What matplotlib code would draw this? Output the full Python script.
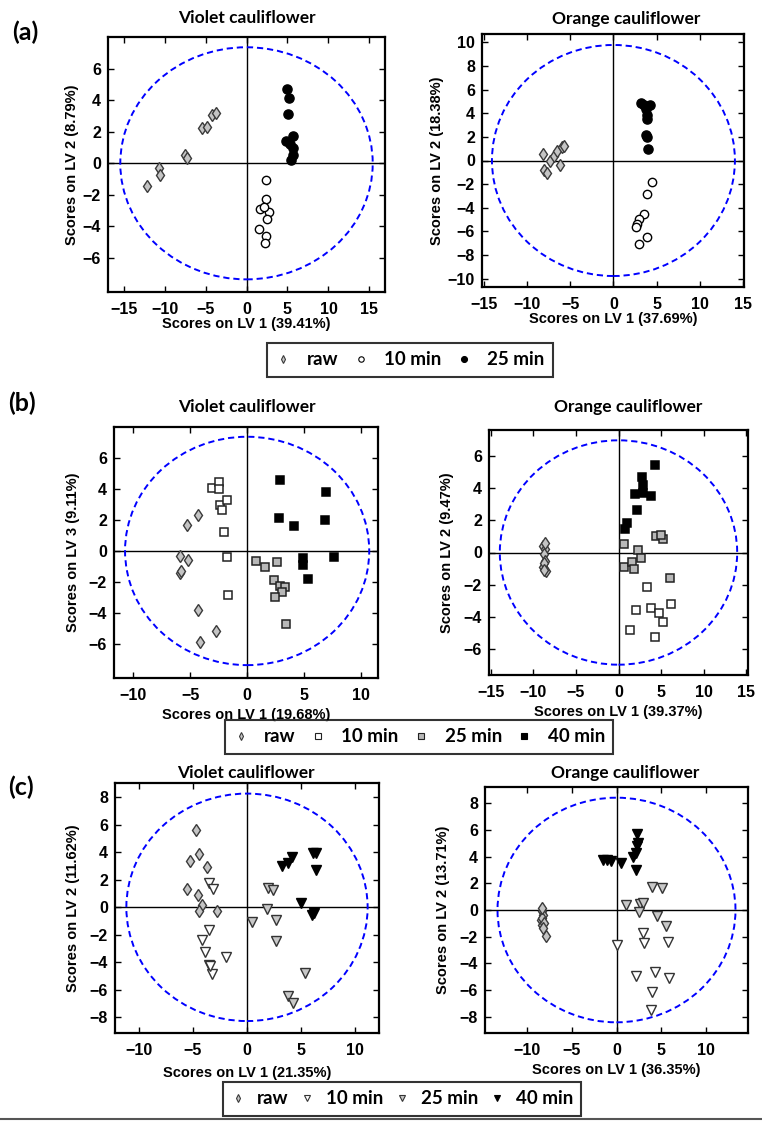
import numpy as np
import matplotlib
matplotlib.use("Agg")
import matplotlib.pyplot as plt
from matplotlib.patches import Ellipse
from matplotlib.lines import Line2D

plt.rcParams['font.family'] = ['Liberation Sans', 'DejaVu Sans']
plt.rcParams['font.weight'] = 'bold'
plt.rcParams['axes.labelweight'] = 'bold'
plt.rcParams['axes.unicode_minus'] = True

# ---- data (scores) ----
# (a) violet
a_vio_raw = [(-12.2, -1.42), (-10.65, -0.30), (-10.5, -0.76), (-7.48, 0.53), (-7.32, 0.36),
             (-5.4, 2.24), (-4.76, 2.33), (-4.23, 3.04), (-3.74, 3.19)]
a_vio_10 = [(2.44, -1.04), (2.32, -2.26), (1.67, -2.92), (2.80, -3.07), (2.48, -3.53),
            (1.50, -4.19), (2.32, -4.59), (2.24, -5.07), (2.10, -2.77)]
a_vio_25 = [(4.96, 4.71), (5.16, 4.12), (5.12, 3.13), (5.69, 1.71), (4.80, 1.40),
            (5.28, 1.25), (5.69, 0.97), (5.69, 0.55), (5.41, 0.19)]
# (a) orange
a_ora_raw = [(-8.19, 0.51), (-7.99, -0.79), (-7.68, -1.07), (-7.37, 0.0), (-6.91, 0.40),
             (-6.53, 0.79), (-6.14, -0.37), (-5.95, 1.16), (-5.68, 1.24)]
a_ora_10 = [(4.48, -1.78), (3.90, -2.80), (3.59, -4.49), (3.01, -4.97), (2.74, -5.34),
            (2.66, -5.65), (3.90, -6.47), (2.97, -7.03)]
a_ora_25 = [(3.20, 4.83), (3.51, 4.69), (4.21, 4.69), (3.82, 4.35), (3.90, 3.84),
            (3.90, 3.50), (3.82, 2.15), (3.90, 1.98), (3.98, 0.96)]
# (b) violet
b_vio_raw = [(-5.29, 1.66), (-4.36, 2.29), (-5.91, -0.35), (-5.23, -0.60), (-5.88, -1.43),
             (-5.85, -1.32), (-4.36, -3.80), (-2.75, -5.16), (-4.15, -5.87)]
b_vio_10 = [(-3.13, 4.08), (-2.49, 4.47), (-2.49, 3.97), (-2.40, 2.98), (-2.25, 2.63),
            (-1.73, 3.28), (-2.05, 1.21), (-1.81, -0.41), (-1.64, -2.83)]
b_vio_25 = [(0.82, -0.63), (1.55, -1.06), (2.60, -0.73), (2.40, -1.86), (2.87, -2.25),
            (3.33, -2.33), (3.04, -2.68), (2.43, -2.98), (3.45, -4.69)]
b_vio_40 = [(2.92, 4.58), (2.81, 2.10), (4.09, 1.60), (6.96, 3.80), (6.81, 1.97),
            (4.91, -0.45), (4.91, -0.89), (7.60, -0.37), (5.38, -1.81)]
# (b) orange
b_ora_raw = [(-8.9, 0.41), (-8.6, 0.21), (-8.8, -0.08), (-8.67, -0.50), (-8.87, -0.91),
             (-8.48, -1.14), (-8.71, -0.66), (-8.6, 0.58), (-8.75, -1.08)]
b_ora_10 = [(3.32, -2.11), (2.07, -3.56), (3.83, -3.46), (4.73, -3.77), (5.20, -4.29),
            (6.21, -3.19), (1.37, -4.80), (4.34, -5.26)]
b_ora_25 = [(0.70, 0.52), (2.27, 0.17), (2.66, -0.35), (0.59, -0.87), (1.56, -0.60),
            (1.80, -1.04), (4.41, 1.04), (5.27, 0.85), (6.05, -1.59), (5.0, 1.1)]
b_ora_40 = [(4.34, 5.40), (2.73, 4.68), (2.85, 4.20), (1.99, 3.64), (2.85, 3.69),
            (3.83, 3.48), (2.19, 2.65), (1.02, 1.82), (0.82, 1.45)]
# (c) violet
c_vio_raw = [(-4.69, 5.62), (-5.25, 3.37), (-4.48, 3.85), (-3.70, 2.96), (-5.59, 1.33),
             (-4.57, 0.90), (-4.20, 0.17), (-4.44, -0.24), (-2.78, -0.24)]
c_vio_10 = [(-3.55, 1.79), (-3.15, 1.33), (-3.52, -1.65), (-4.20, -2.38), (-3.92, -3.27),
            (-3.52, -4.19), (-3.27, -4.85), (-1.98, -3.59), (-3.45, -4.3)]
c_vio_25 = [(0.46, -1.04), (1.94, 1.41), (2.41, 1.26), (1.85, -0.15), (2.65, -0.92),
            (2.65, -2.42), (5.34, -4.75), (3.83, -6.45), (4.26, -6.93)]
c_vio_40 = [(3.27, 3.03), (3.83, 3.20), (4.20, 3.64), (6.11, 3.93), (6.36, 3.98),
            (6.36, 2.72), (4.97, 0.34), (6.05, -0.56), (6.17, -0.44)]
# (c) orange
c_ora_raw = [(-8.37, -0.05), (-8.22, -0.38), (-8.45, -0.75), (-8.30, -1.13), (-7.89, -1.95),
             (-8.33, -0.63), (-8.15, -0.95), (-8.37, 0.12), (-8.25, -1.38)]
c_ora_10 = [(0.07, -2.63), (2.95, -1.70), (3.06, -2.50), (5.75, -2.43), (2.13, -4.95),
            (4.26, -4.63), (5.87, -5.05), (4.0, -6.13), (3.81, -7.45)]
c_ora_25 = [(1.01, 0.38), (2.62, 0.45), (2.99, 0.55), (2.54, -0.13), (4.0, 1.75),
            (5.04, 1.63), (4.56, -0.45), (5.49, -1.18)]
c_ora_40 = [(-1.05, 3.75), (-0.67, 3.70), (0.52, 3.50), (2.32, 5.70), (2.39, 5.0),
            (2.32, 4.75), (2.13, 4.25), (1.87, 4.0), (2.13, 3.0), (-1.5, 3.75)]

# confidence ellipse half-axes (LV1, LV2/3)
ellipses = {'a_vio': (15.4, 7.35), 'a_ora': (14.05, 9.77),
            'b_vio': (10.73, 7.37), 'b_ora': (13.93, 6.96),
            'c_vio': (11.15, 8.28), 'c_ora': (13.3, 8.4)}

titles = {'a_vio': 'Violet cauliflower', 'a_ora': 'Orange cauliflower',
          'b_vio': 'Violet cauliflower', 'b_ora': 'Orange cauliflower',
          'c_vio': 'Violet cauliflower', 'c_ora': 'Orange cauliflower'}
xlabels = {'a_vio': 'Scores on LV 1 (39.41%)', 'a_ora': 'Scores on LV 1 (37.69%)',
           'b_vio': 'Scores on LV 1 (19.68%)', 'b_ora': 'Scores on LV 1 (39.37%)',
           'c_vio': 'Scores on LV 1 (21.35%)', 'c_ora': 'Scores on LV 1 (36.35%)'}
ylabels = {'a_vio': 'Scores on LV 2 (8.79%)', 'a_ora': 'Scores on LV 2 (18.38%)',
           'b_vio': 'Scores on LV 3 (9.11%)', 'b_ora': 'Scores on LV 2 (9.47%)',
           'c_vio': 'Scores on LV 2 (11.62%)', 'c_ora': 'Scores on LV 2 (13.71%)'}

# ---- marker styles ----
raw_st = dict(marker='d', ms=6.2, mfc='#c4c4c4', mec='#3a3a3a', mew=1.0)
circ_open = dict(marker='o', ms=6.0, mfc='white', mec='black', mew=1.0)
circ_fill = dict(marker='o', ms=6.6, mfc='black', mec='black', mew=1.0)
sq_open = dict(marker='s', ms=6.3, mfc='white', mec='#222222', mew=1.1)
sq_gray = dict(marker='s', ms=6.3, mfc='#b8b8b8', mec='#222222', mew=1.1)
sq_black = dict(marker='s', ms=6.3, mfc='black', mec='black', mew=1.1)
tri_open = dict(marker='v', ms=7.0, mfc='white', mec='#333333', mew=1.0)
tri_gray = dict(marker='v', ms=7.0, mfc='#c8c8c8', mec='#333333', mew=1.0)
tri_black = dict(marker='v', ms=7.0, mfc='black', mec='black', mew=1.0)

title_font = dict(family=['Lato', 'DejaVu Sans'], weight='bold', size=12.5)

W, H = 762, 1129
fig = plt.figure(figsize=(W / 100, H / 100), dpi=100)


def rect(x0, y0, x1, y1):
    return [x0 / W, 1 - y1 / H, (x1 - x0) / W, (y1 - y0) / H]


def panel(key, box, groups, xlim, ylim, xticks, yticks, title_xy, xpad, ypad):
    ax = fig.add_axes(rect(*box))
    ax.axhline(0, color='black', lw=1.0, zorder=1)
    ax.axvline(0, color='black', lw=1.0, zorder=1)
    rx, ry = ellipses[key]
    ax.add_patch(Ellipse((0, 0), 2 * rx, 2 * ry, fill=False, ec='#0000ff',
                         ls=(0, (3.2, 2.0)), lw=1.4, zorder=2))
    for pts, st in groups:
        pts = np.array(pts)
        ax.plot(pts[:, 0], pts[:, 1], ls='none', zorder=3, **st)
    ax.set_xlim(*xlim)
    ax.set_ylim(*ylim)
    ax.set_xticks(xticks)
    ax.set_yticks(yticks)
    ax.tick_params(direction='in', top=True, right=True, length=4, width=1,
                   labelsize=11.5)
    ax.tick_params(axis='x', pad=7)
    ax.tick_params(axis='y', pad=5)
    for lbl in ax.get_xticklabels() + ax.get_yticklabels():
        lbl.set_fontweight('bold')
    for s in ax.spines.values():
        s.set_linewidth(1.6)
    ax.set_xlabel(xlabels[key], size=10.5, labelpad=xpad)
    ax.set_ylabel(ylabels[key], size=10.5, labelpad=ypad)
    fig.text(title_xy[0] / W, 1 - title_xy[1] / H, titles[key],
             ha='center', va='center', **title_font)
    return ax


panel('a_vio', (108, 37, 385, 292),
      [(a_vio_raw, raw_st), (a_vio_10, circ_open), (a_vio_25, circ_fill)],
      (-16.9, 16.9), (-8.15, 8.0), [-15, -10, -5, 0, 5, 10, 15], [-6, -4, -2, 0, 2, 4, 6],
      (247, 18), 0, 3)
panel('a_ora', (482, 34, 744, 287),
      [(a_ora_raw, raw_st), (a_ora_10, circ_open), (a_ora_25, circ_fill)],
      (-15.2, 15.1), (-10.7, 10.7), [-15, -10, -5, 0, 5, 10, 15], list(range(-10, 11, 2)),
      (626, 19), 0, 3)
panel('b_vio', (114, 427, 378, 678),
      [(b_vio_raw, raw_st), (b_vio_10, sq_open), (b_vio_25, sq_gray), (b_vio_40, sq_black)],
      (-11.7, 11.5), (-8.2, 8.0), [-10, -5, 0, 5, 10], [-6, -4, -2, 0, 2, 4, 6],
      (247, 407), 4, 5.9)
panel('b_ora', (489, 430, 748, 675),
      [(b_ora_raw, raw_st), (b_ora_10, sq_open), (b_ora_25, sq_gray), (b_ora_40, sq_black)],
      (-15.2, 15.2), (-7.6, 7.6), [-15, -10, -5, 0, 5, 10, 15], [-6, -4, -2, 0, 2, 4, 6],
      (628, 407), 4, 6.8)
panel('c_vio', (115, 783, 379, 1033),
      [(c_vio_raw, raw_st), (c_vio_10, tri_open), (c_vio_25, tri_gray), (c_vio_40, tri_black)],
      (-12.2, 12.2), (-9.15, 9.05), [-10, -5, 0, 5, 10], list(range(-8, 9, 2)),
      (246, 773), 6, 7.3)
panel('c_ora', (485, 787, 748, 1033),
      [(c_ora_raw, raw_st), (c_ora_10, tri_open), (c_ora_25, tri_gray), (c_ora_40, tri_black)],
      (-14.7, 14.7), (-9.2, 9.2), [-10, -5, 0, 5, 10], list(range(-8, 9, 2)),
      (625, 773), 4, 7.3)

# panel letters
for lab, x, y in [('(a)', 25, 32), ('(b)', 22, 403), ('(c)', 21, 787)]:
    fig.text(x / W, 1 - y / H, lab, ha='center', va='center',
             family=['Lato', 'DejaVu Sans'], weight='bold', size=18)

# legends
leg_font = dict(family=['Lato', 'DejaVu Sans'], weight='bold', size=13.5)


def handle(st):
    d = dict(st)
    d['ms'] = d['ms'] * 0.65
    d['mew'] = 0.8
    return Line2D([], [], ls='none', **d)


def legend(items, cx, cy, tpad, cspace):
    leg = fig.legend([handle(s) for s, _ in items], [t for _, t in items],
                     loc='center', bbox_to_anchor=(cx / W, 1 - cy / H), ncol=len(items),
                     frameon=True, fancybox=False, edgecolor='black', prop=leg_font,
                     handlelength=0.8, handletextpad=tpad, columnspacing=cspace,
                     borderpad=0.45, borderaxespad=0)
    leg.get_frame().set_linewidth(1.5)


legend([(raw_st, 'raw'), (circ_open, '10 min'), (circ_fill, '25 min')], 410, 360, 0.85, 0.8)
legend([(raw_st, 'raw'), (sq_open, '10 min'), (sq_gray, '25 min'), (sq_black, '40 min')],
       419, 737, 0.85, 0.8)
legend([(raw_st, 'raw'), (tri_open, '10 min'), (tri_gray, '25 min'), (tri_black, '40 min')],
       402, 1099, 0.6, 0.6)

fig.add_artist(Line2D([0, 1], [1 - 1119 / H, 1 - 1119 / H], color='#555555', lw=1.5,
                      transform=fig.transFigure))

fig.savefig('out.png', dpi=100)
